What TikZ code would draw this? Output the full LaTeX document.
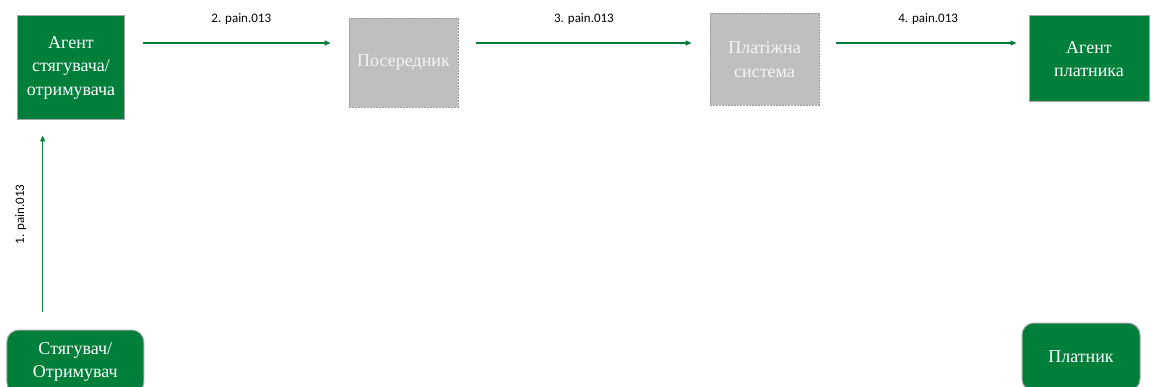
\documentclass[tikz,border=0pt]{standalone}
\usepackage{fontspec}
\setmainfont{Liberation Serif}
\newfontfamily\msgfont{Carlito}
\usetikzlibrary{arrows.meta}
\definecolor{agentgreen}{RGB}{0,127,59}
\definecolor{hubgray}{RGB}{191,191,191}

\begin{document}
\begin{tikzpicture}[x=1pt,y=-1pt,
    agent/.style={draw=black!35,line width=1pt,fill=agentgreen,text=white,align=center,inner sep=0pt,font=\fontsize{18}{23.5}\selectfont},
    party/.style={agent,rounded corners=12pt},
    hub/.style={draw=black!40,dash pattern=on 2pt off 1pt,line width=.8pt,fill=hubgray,text=black!4,align=center,inner sep=0pt,font=\fontsize{18}{23.5}\selectfont},
    msg/.style={draw=agentgreen,line width=1.2pt,-{Triangle[length=6pt,width=5pt]}},
    msglabel/.style={font=\msgfont\fontsize{13}{15}\selectfont}]
  \useasboundingbox (0,0) rectangle (1153,387);
  \clip (0,0) rectangle (1153,387);
  \node[agent,minimum width=107pt,minimum height=104pt] (collAgent) at (71,68) {Агент\\стягувача/\\отримувача};
  \node[hub,minimum width=109pt,minimum height=89pt] (broker) at (403.5,62.5) {Посередник};
  \node[hub,minimum width=109pt,minimum height=92pt] (paysys) at (764.5,59.5) {Платіжна\\система};
  \node[agent,minimum width=120pt,minimum height=86pt] (payAgent) at (1089,59) {Агент\\платника};
  \node[party,minimum width=137pt,minimum height=64pt] (payee) at (75.3,362) {Стягувач/\\Отримувач};
  \node[party,minimum width=118pt,minimum height=68pt] (payer) at (1081,357) {Платник};
  \coordinate (row) at (0,43);
  \coordinate (col) at (42.7,0);
  \draw[msg,shorten <=18pt,shorten >=15pt] (payee.north -| col) -- (collAgent.south -| col)
    node[msglabel,pos=.55,rotate=90,yshift=22pt] {1. pain.013};
  \draw[msg,shorten <=18pt,shorten >=18pt] (collAgent.east |- row) -- (broker.west |- row)
    node[msglabel,pos=.52,yshift=24pt] {2. pain.013};
  \draw[msg,shorten <=18pt,shorten >=18pt] (broker.east |- row) -- (paysys.west |- row)
    node[msglabel,pos=.5,yshift=24pt] {3. pain.013};
  \draw[msg,shorten <=17pt,shorten >=12pt] (paysys.east |- row) -- (payAgent.west |- row)
    node[msglabel,pos=.52,yshift=24pt] {4. pain.013};
\end{tikzpicture}
\end{document}
